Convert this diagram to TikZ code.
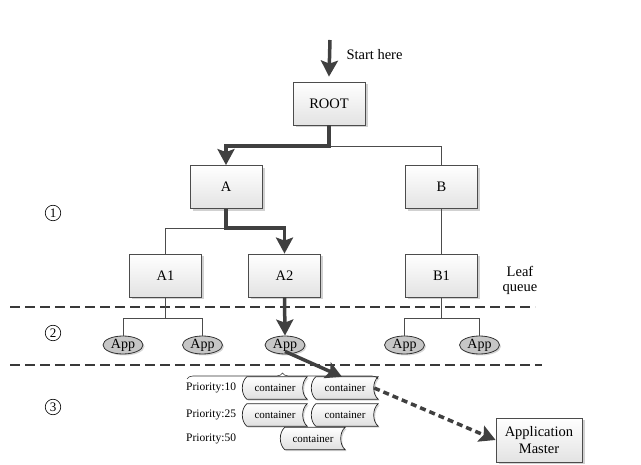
\documentclass[tikz,border=0pt]{standalone}
\usepackage{fontspec}
\setmainfont{Liberation Serif}
\usetikzlibrary{arrows.meta,shadows,shapes.geometric,decorations.pathreplacing,calc}
\pgfdeclarelayer{background}
\pgfsetlayers{background,main}
\begin{document}
\begin{tikzpicture}[x=1pt,y=-1pt,
  shad/.style={drop shadow={shadow xshift=2.5pt, shadow yshift=-2.5pt, fill=gray!45, opacity=0.8}},
  qbox/.style={draw=gray!60!black, line width=0.8pt, top color=white, bottom color=gray!22,
    minimum width=72pt, minimum height=43pt, inner sep=0pt, align=center,
    font=\fontsize{14.5}{17}\selectfont, shad},
  app/.style={ellipse, draw=gray!40!black, line width=0.8pt, fill=gray!45,
    minimum width=40pt, minimum height=18pt, inner sep=0pt,
    font=\fontsize{14}{14}\selectfont, drop shadow={shadow xshift=1.5pt, shadow yshift=-1.5pt, fill=gray!40, opacity=0.8}},
  cont/.style={minimum width=64pt, minimum height=22pt, inner sep=0pt, font=\fontsize{11}{11}\selectfont},
  contshape/.style={draw=gray!30!black, line width=0.7pt, top color=white, bottom color=gray!25,
    drop shadow={shadow xshift=1.5pt, shadow yshift=-1.5pt, fill=gray!40, opacity=0.8}},
  thinline/.style={draw=gray!60!black, line width=0.9pt},
  boldarrow/.style={draw=black!75, line width=3.5pt, -{Stealth[length=16pt,width=17pt,inset=3pt]}},
  dashedarrow/.style={draw=black!75, line width=3.5pt, dash pattern=on 6pt off 4pt, -{Stealth[length=16pt,width=17pt,inset=3pt]}},
  sep/.style={draw=gray!45!black, line width=1.4pt, dash pattern=on 10pt off 5pt},
  num/.style={circle, draw=black, line width=0.6pt, inner sep=0pt, minimum size=15.5pt, font=\fontsize{13}{13}\selectfont},
  lbl/.style={font=\fontsize{14.5}{17}\selectfont, align=center},
  prio/.style={anchor=west, inner sep=0pt, font=\fontsize{11.5}{12}\selectfont}
]
\useasboundingbox (0,0) rectangle (641,465);

% queue boxes
\node[qbox] (ROOT) at (329,103.5) {ROOT};
\node[qbox] (A) at (226,187) {A};
\node[qbox] (B) at (441.5,187) {B};
\node[qbox] (A1) at (165.5,275.5) {A1};
\node[qbox] (A2) at (284.5,275.5) {A2};
\node[qbox] (B1) at (441.5,275.5) {B1};
\node[qbox, minimum width=86pt, minimum height=44pt] (AM) at (539,440) {Application\\Master};

% apps
\node[app] (ap1) at (123,345) {App};
\node[app] (ap2) at (202.5,345) {App};
\node[app] (ap3) at (285,345) {App};
\node[app] (ap4) at (404.5,345) {App};
\node[app] (ap5) at (479.5,345) {App};

% containers
\node[cont] (c11) at (275,388) {container};
\node[cont, minimum width=66pt] (c12) at (345,388) {container};
\node[cont] (c21) at (275,415) {container};
\node[cont, minimum width=66pt] (c22) at (345,415) {container};
\node[cont] (c3) at (313,438.5) {container};
\begin{pgfonlayer}{background}
\foreach \n in {c11,c12,c21,c22,c3}{
  \draw[contshape] ([xshift=4pt]\n.north west) -- (\n.north east)
    .. controls +(-6pt,-5pt) and +(-6pt,5pt) .. (\n.south east)
    -- ([xshift=4pt]\n.south west)
    .. controls +(-6pt,5pt) and +(-6pt,-5pt) .. ([xshift=4pt]\n.north west) -- cycle;
}
\end{pgfonlayer}

% labels
\node[lbl, anchor=west] (sh) at (343,55) {Start here};
\node[lbl] (leaf) at (520,280.5) {Leaf\\[-2pt]queue};
\node[num] (n1) at (53,213) {1};
\node[num] (n2) at (53,333) {2};
\node[num] (n3) at (53,407) {3};
\node[prio] (p10) at (186,388) {Priority:10};
\node[prio] (p25) at (186,415) {Priority:25};
\node[prio] (p50) at (186,438.5) {Priority:50};

% separators
\coordinate (s1a) at (10,307); \coordinate (s1b) at (535,307);
\coordinate (s2a) at (10,365); \coordinate (s2b) at (542,365);
\draw[sep] (s1a) -- (s1b);
\draw[sep] (s2a) -- (s2b);

% junctions
\coordinate (j1) at (ROOT.south |- 0,146);
\coordinate (j2) at (A.south |- 0,228);
\coordinate (j3) at (A1.south |- 0,318);
\coordinate (j4) at (B1.south |- 0,318);

% thin tree lines
\draw[thinline] (j1) -| (B.north);
\draw[thinline] (j2) -| (A1.north);
\draw[thinline] (B.south) -- (B1.north);
\draw[thinline] (A1.south) -- (j3) -| (ap1.north);
\draw[thinline] (j3) -| (ap2.north);
\draw[thinline] (B1.south) -- (j4) -| (ap4.north);
\draw[thinline] (j4) -| (ap5.north);

% brace
\coordinate (bl) at (187,379);
\coordinate (br) at (378,379);
\draw[decorate, decoration={brace, amplitude=6pt}, line width=0.6pt, draw=black!80] (bl) -- (br);

% bold path
\coordinate (st) at (330,40);
\draw[boldarrow] (st) -- ([yshift=5pt]ROOT.north);
\draw[boldarrow] (ROOT.south) -- (j1) -| (A.north);
\draw[boldarrow] (A.south) -- (j2) -| (A2.north);
\draw[boldarrow] (A2.south) -- (ap3.north);
\draw[boldarrow] ([yshift=3pt]ap3.south) -- ([xshift=-3pt]c12.north);
\draw[dashedarrow] ([xshift=-4pt]c12.east) -- (AM.west);
\end{tikzpicture}
\end{document}
